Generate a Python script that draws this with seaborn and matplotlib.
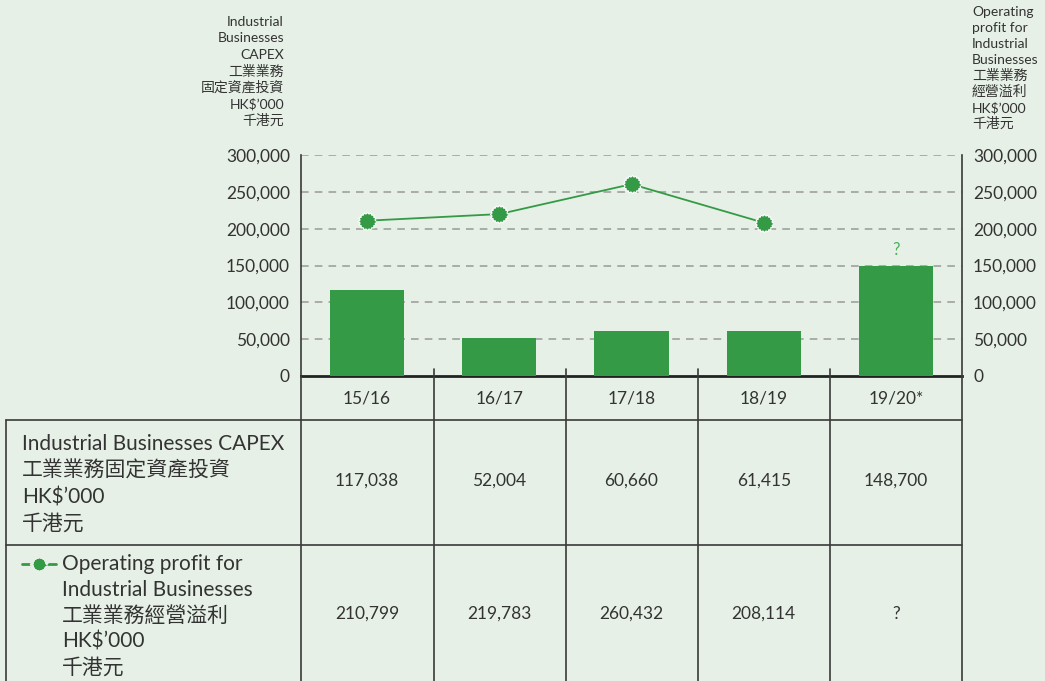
import numpy as np
import pandas as pd
import matplotlib
matplotlib.use("Agg")
import matplotlib.pyplot as plt
from matplotlib.lines import Line2D
import seaborn as sns

# données
years = ["15/16", "16/17", "17/18", "18/19", "19/20*"]
capex = [117038, 52004, 60660, 61415, 148700]
profit = [210799, 219783, 260432, 208114, np.nan]
capex_labels = ["117,038", "52,004", "60,660", "61,415", "148,700"]
profit_labels = ["210,799", "219,783", "260,432", "208,114", "?"]
yticks = [0, 50000, 100000, 150000, 200000, 250000, 300000]

left_title = ["Industrial", "Businesses", "CAPEX", "工業業務", "固定資產投資", "HK$’000", "千港元"]
right_title = ["Operating", "profit for", "Industrial", "Businesses", "工業業務", "經營溢利", "HK$’000", "千港元"]
row1_label = ["Industrial Businesses CAPEX", "工業業務固定資產投資", "HK$’000", "千港元"]
row2_label = ["Operating profit for", "Industrial Businesses", "工業業務經營溢利", "HK$’000", "千港元"]

df = pd.DataFrame({"Year": years, "Capex": capex, "Profit": profit})

BG = "#e6f0e6"
GREEN = "#349a46"
DARK = "#333333"
LINE = "#3a3a3a"
W, H = 1045, 681
LAT = ["Lato", "DejaVu Sans"]
CJK = ["Noto Sans CJK TC", "DejaVu Sans"]

sns.set_theme(style="white")
plt.rcParams['font.family'] = LAT

fig = plt.figure(figsize=(W / 100, H / 100), dpi=100, facecolor=BG)


def fx(x):
    return x / W


def fy(y):
    return 1 - y / H


def fam(t):
    # police CJK seulement pour les lignes en chinois
    return CJK if any(ord(c) > 0x2E80 for c in t) else LAT


# zone du graphique
x0, x1, ytop, ybot = 301, 962, 155, 376
ax = fig.add_axes([fx(x0), fy(ybot), fx(x1 - x0), (ybot - ytop) / H])
ax.set_facecolor(BG)

sns.barplot(data=df, x="Year", y="Capex", color=GREEN, width=0.56,
            saturation=1, linewidth=0, ax=ax, zorder=3)

# marqueur en forme de soleil
ang = np.linspace(0, 2 * np.pi, 33)[:-1]
rad = np.where(np.arange(32) % 2 == 0, 1.0, 0.84)
sun = np.column_stack([rad * np.cos(ang), rad * np.sin(ang)])

sns.pointplot(data=df, x="Year", y="Profit", color=GREEN, errorbar=None,
              markers=sun, ax=ax, linewidth=1.3, markersize=13,
              markeredgecolor="white", markeredgewidth=0.8, zorder=4)
for ln in ax.lines:
    ln.set_markerfacecolor(GREEN)
    ln.set_markeredgecolor("white")
    ln.set_zorder(4)

ax.set_xlim(-0.5, 4.5)
ax.set_ylim(0, 300000)
ax.set_yticks(yticks)
ax.set_yticklabels([f"{v:,}" for v in yticks])
ax.tick_params(axis="y", length=0, pad=8, labelsize=12.5, labelcolor=DARK)
ax.set_xticks([])
ax.set_xlabel("")
ax.set_ylabel("")
for v in yticks[1:]:
    ax.axhline(v, color="#999999", lw=1.1, ls=(0, (5, 4)), zorder=1)
for s in ["top", "right"]:
    ax.spines[s].set_visible(False)
ax.spines["left"].set_color(LINE)
ax.spines["left"].set_linewidth(1.2)
ax.spines["bottom"].set_color("#222222")
ax.spines["bottom"].set_linewidth(2)

ax2 = ax.twinx()
ax2.set_ylim(0, 300000)
ax2.set_yticks(yticks)
ax2.set_yticklabels([f"{v:,}" for v in yticks])
ax2.tick_params(axis="y", length=0, pad=8, labelsize=12.5, labelcolor=DARK)
for s in ["top", "left", "bottom"]:
    ax2.spines[s].set_visible(False)
ax2.spines["right"].set_color(LINE)
ax2.spines["right"].set_linewidth(1.2)

# point d'interrogation au-dessus de la dernière barre
ax.text(4, 160000, "?", ha="center", va="bottom", color="#4caf5a", fontsize=12)

# titres des axes
for i, t in enumerate(left_title):
    fig.text(fx(284), fy(22 + i * 16.5), t, ha="right", va="center", fontsize=10,
             color=DARK, family=fam(t))
for i, t in enumerate(right_title):
    fig.text(fx(972), fy(12 + i * 16), t, ha="left", va="center", fontsize=10,
             color=DARK, family=fam(t))

# tableau sous le graphique
def hline(y, xa, xb, lw=1.2):
    fig.add_artist(Line2D([fx(xa), fx(xb)], [fy(y), fy(y)], color=LINE, lw=lw))


def vline(x, ya, yb, lw=1.2):
    fig.add_artist(Line2D([fx(x), fx(x)], [fy(ya), fy(yb)], color=LINE, lw=lw))


vline(x0, ybot, H)
vline(x1, ybot, H)
for xc in [434, 566, 698, 830]:
    vline(xc, 369, H)
vline(6, 420, H)
hline(420, 6, x1)
hline(545, 6, x1)

col_w = (x1 - x0) / len(years)
for i, yr in enumerate(years):
    cx = x0 + col_w * (i + 0.5)
    fig.text(fx(cx), fy(398), yr, ha="center", va="center", fontsize=12.5, color=DARK)
    fig.text(fx(cx), fy(481), capex_labels[i], ha="center", va="center", fontsize=12.5, color=DARK)
    fig.text(fx(cx), fy(614), profit_labels[i], ha="center", va="center", fontsize=12.5, color=DARK)

for i, t in enumerate(row1_label):
    fig.text(fx(22), fy(444 + i * 26.5), t, ha="left", va="center", fontsize=15,
             color=DARK, family=fam(t))
for i, t in enumerate(row2_label):
    fig.text(fx(62), fy(564 + i * 26), t, ha="left", va="center", fontsize=15,
             color=DARK, family=fam(t))

fig.add_artist(Line2D([fx(22), fx(39), fx(56)], [fy(564)] * 3, color=GREEN, lw=2,
                      marker=sun, markevery=[1], markersize=12,
                      markerfacecolor=GREEN, markeredgecolor=BG, markeredgewidth=2))

fig.savefig("out.png", dpi=100, facecolor=BG)
